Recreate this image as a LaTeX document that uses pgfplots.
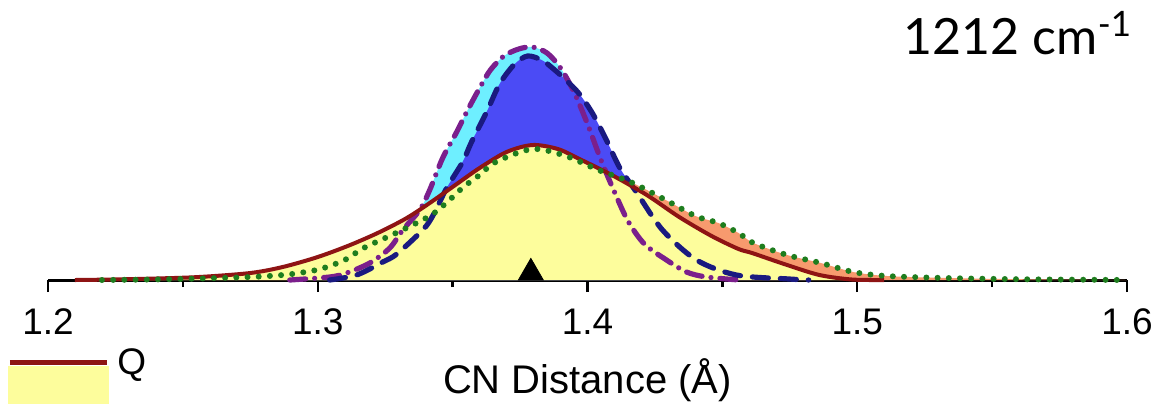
\documentclass[border=0pt]{standalone}
\usepackage{fontspec}
\setmainfont{Liberation Sans}
\newfontfamily\latofont{Lato}
\usepackage{pgfplots}
\pgfplotsset{compat=1.18}
\definecolor{qred}{HTML}{8E1414}
\definecolor{qyellow}{HTML}{FDFD9C}
\definecolor{gsalmon}{HTML}{F79A6E}
\definecolor{ggreen}{HTML}{1E7D1E}
\definecolor{pcyan}{HTML}{6EEFFF}
\definecolor{ppurple}{HTML}{7B1F8C}
\definecolor{bblue}{HTML}{4B4BF5}
\definecolor{bnavy}{HTML}{1A1A80}

\pgfplotstableread{
x y
1.210 0
1.224 0.5
1.240 1.5
1.256 3
1.275 7
1.287 13
1.300 23
1.312 35
1.323 48
1.333 62
1.3415 77
1.351 95
1.360 112
1.370 128
1.3796 135
1.389 131
1.397 121
1.409 105
1.422 85
1.434 63
1.446 44
1.456 31
1.461 27
1.474 15
1.486 5
1.498 0.5
1.510 0
}\qdata

\pgfplotstableread{
x y
1.220 0
1.238 0.5
1.256 1.5
1.275 3
1.287 5
1.293 7
1.301 11
1.310 20
1.317 32
1.329 47
1.3415 64
1.348 78
1.354 93
1.360 105
1.366 118
1.3796 131
1.392 124
1.404 110
1.416 98
1.429 80
1.440 64
1.4485 57
1.456 47
1.4615 37
1.474 25
1.4865 17
1.4985 8
1.511 4
1.533 2
1.560 0.8
1.600 0
}\gdata

\pgfplotstableread{
x y
1.2896 0
1.3044 3
1.3107 7
1.3193 17
1.3267 32
1.3315 50
1.3378 70
1.3415 90
1.3463 122
1.3515 148
1.3552 168
1.3600 192
1.3640 210
1.3690 224
1.3745 231
1.3796 233
1.3850 227
1.3900 212
1.3950 188
1.4000 156
1.4050 120
1.4100 88
1.4150 59
1.4211 36
1.4293 20
1.4367 8
1.4441 3
1.4563 0
}\pdata

\pgfplotstableread{
x y
1.3044 0
1.3144 5
1.3241 18
1.3293 26
1.3389 50
1.3426 64
1.3478 92
1.3537 118
1.3570 138
1.3626 168
1.3674 196
1.3730 216
1.3778 224
1.3830 220
1.3870 212
1.3920 200
1.3970 186
1.4020 166
1.4070 140
1.4120 112
1.4181 88
1.4278 50
1.4404 20
1.4552 5
1.4748 1
1.4820 0
}\bdata

\begin{document}
\begin{tikzpicture}
\useasboundingbox (-24pt,-62pt) rectangle (556.5pt,140pt);
\begin{axis}[
  scale only axis, width=539.5pt, height=140pt,
  xmin=1.2, xmax=1.6, ymin=0, ymax=280,
  axis x line=bottom, axis y line=none,
  axis line style={line width=1.5pt, -},
  xtick={1.2,1.3,1.4,1.5,1.6},
  minor xtick={1.25,1.35,1.45,1.55},
  xticklabels={1.2,1.3,1.4,1.5,1.6},
  tick align=outside, major tick length=6pt, minor tick length=3.5pt,
  every tick/.style={line width=1.2pt, black},
  xticklabel style={font=\fontsize{18.5}{21}\selectfont, yshift=-5pt},
  /pgf/number format/assume math mode=true,
  xlabel={CN Distance (Å)},
  xlabel style={font=\fontsize{20}{24}\selectfont, at={(axis description cs:0.5,0)}, anchor=center, yshift=-50pt},
  clip=false,
]
% fills
\addplot[draw=none, fill=pcyan, smooth, tension=0.5] table {\pdata} \closedcycle;
\addplot[draw=none, fill=bblue, smooth, tension=0.5] table {\bdata} \closedcycle;
\addplot[draw=none, fill=gsalmon, smooth, tension=0.5] table {\gdata} \closedcycle;
\addplot[draw=none, fill=qyellow, smooth, tension=0.5] table {\qdata} \closedcycle;
% lines
\addplot[ppurple, line width=2.6pt, smooth, tension=0.5, line cap=round,
  dash pattern=on 8pt off 4.5pt on 0pt off 4.5pt] table {\pdata};
\addplot[bnavy, line width=2.6pt, smooth, tension=0.5, line cap=round,
  dash pattern=on 8pt off 6pt] table {\bdata};
\addplot[qred, line width=2pt, smooth, tension=0.5] table {\qdata};
\addplot[ggreen, line width=3pt, smooth, tension=0.5, line cap=round,
  dash pattern=on 0pt off 5.6pt] table {\gdata};
% marker
\addplot[black, only marks, mark=triangle*, mark size=7.2pt,
  mark options={yshift=3.6pt}] coordinates {(1.379,0)};
\end{axis}
% legend
\fill[qyellow] (-20pt,-62pt) rectangle (30.5pt,-43pt);
\draw[qred, line width=2.5pt] (-19pt,-41.25pt) -- (29.5pt,-41.25pt);
\node[anchor=west, inner sep=0pt, font=\fontsize{18.5}{21}\selectfont] at (34.5pt,-42.5pt) {Q};
% annotation
\node[anchor=center, inner sep=0pt, font=\latofont\fontsize{25}{30}\selectfont] at (485pt,123.5pt) {1212 cm\textsuperscript{-1}};
\end{tikzpicture}
\end{document}
